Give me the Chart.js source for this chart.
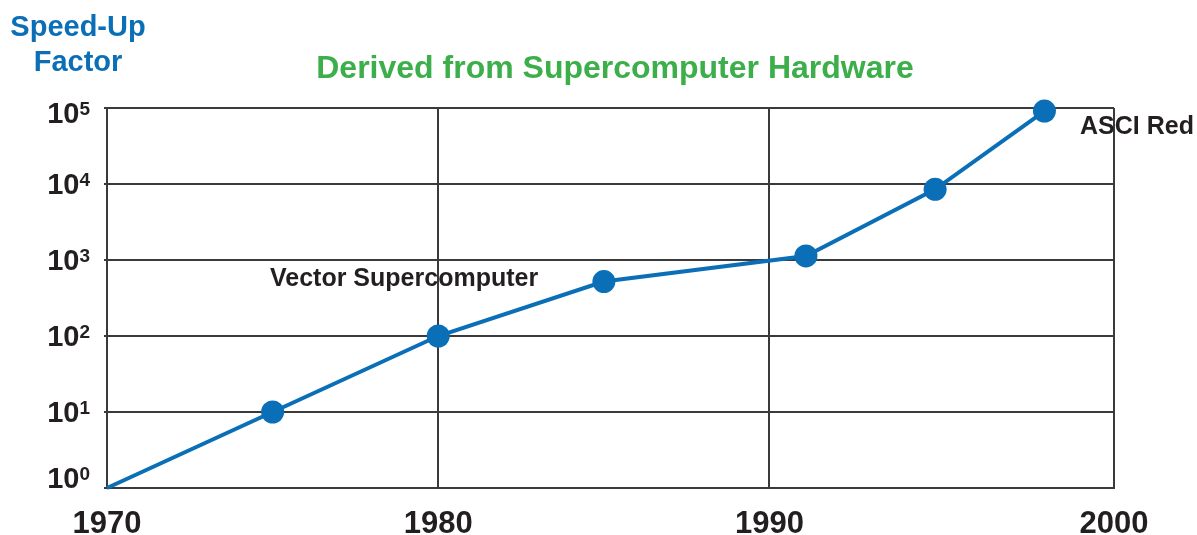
<!DOCTYPE html>
<html>
<head>
<meta charset="utf-8">
<script src="https://cdn.jsdelivr.net/npm/chart.js@4"></script>
<style>
  html, body { margin: 0; padding: 0; background: #ffffff; }
  #wrap { width: 1197px; height: 535px; position: relative; }
</style>
</head>
<body>
<div id="wrap"><canvas id="c" width="1197" height="535"></canvas></div>
<script>
// ---- data ----
const years = [1970, 1975, 1980, 1985, 1991.1, 1995, 1998.3];
const speedUp = [1, 10, 100, 520, 1130, 8500, 91000];
const xTickValues = [1970, 1980, 1990, 2000.4];
const xTickLabels = ['1970', '1980', '1990', '2000'];
const yTickValues = [1, 10, 100, 1000, 10000, 100000];
const yTickBase = '10';
const yTickExponents = ['0', '1', '2', '3', '4', '5'];
const chartTitle = 'Derived from Supercomputer Hardware';
const yTitleLines = ['Speed-Up', 'Factor'];
const annotations = [
  { text: 'Vector Supercomputer', x: 270, y: 279 },
  { text: 'ASCI Red', x: 1080, y: 127 }
];

const FONT = '"Liberation Sans", Arial, Helvetica, sans-serif';
const BLUE = '#0a6fb7';
const GRID = '#3a3a3a';
const DARK = '#231f20';

const textPlugin = {
  id: 'texts',
  afterDraw(chart) {
    const ctx = chart.ctx;
    ctx.save();
    ctx.textBaseline = 'middle';
    // title
    ctx.fillStyle = '#3cae4a';
    ctx.font = 'bold 32px ' + FONT;
    ctx.textAlign = 'center';
    ctx.fillText(chartTitle, 615, 69);
    // y-axis title
    ctx.fillStyle = BLUE;
    ctx.font = 'bold 29px ' + FONT;
    ctx.fillText(yTitleLines[0], 78, 28);
    ctx.fillText(yTitleLines[1], 78, 63);
    // annotations
    ctx.fillStyle = DARK;
    ctx.font = 'bold 25px ' + FONT;
    ctx.textAlign = 'left';
    annotations.forEach(a => ctx.fillText(a.text, a.x, a.y));
    // y tick labels with superscript exponents
    const ys = chart.scales.y;
    const rightEdge = 90;
    ctx.textBaseline = 'alphabetic';
    ys.ticks.forEach((t, i) => {
      const py = ys.getPixelForValue(t.value);
      const n = Math.min(Math.max(py, 113), 478);
      const baseY = n + 10;
      ctx.font = 'bold 19px ' + FONT;
      const ew = ctx.measureText(yTickExponents[i]).width;
      ctx.textAlign = 'left';
      ctx.fillText(yTickExponents[i], rightEdge - ew, baseY - 8);
      ctx.font = 'bold 29px ' + FONT;
      ctx.textAlign = 'right';
      ctx.fillText(yTickBase, rightEdge - ew, baseY);
    });
    ctx.restore();
  }
};

new Chart(document.getElementById('c'), {
  type: 'line',
  data: {
    datasets: [{
      data: years.map((y, i) => ({ x: y, y: speedUp[i] })),
      borderColor: BLUE,
      backgroundColor: BLUE,
      borderWidth: 4,
      tension: 0,
      pointRadius: years.map((y, i) => i === 0 ? 0 : 11.5),
      pointHoverRadius: years.map((y, i) => i === 0 ? 0 : 11.5),
      pointBackgroundColor: BLUE,
      pointBorderWidth: 0,
      clip: false
    }]
  },
  options: {
    responsive: false,
    animation: false,
    events: [],
    layout: { padding: { left: 0, right: 83, top: 108, bottom: 0 } },
    plugins: { legend: { display: false }, tooltip: { enabled: false }, title: { display: false } },
    scales: {
      x: {
        type: 'linear',
        min: 1970,
        max: 2000.4,
        afterBuildTicks(axis) { axis.ticks = xTickValues.map(v => ({ value: v })); },
        afterFit(axis) { axis.height = 47; },
        ticks: {
          autoSkip: false,
          maxRotation: 0,
          padding: 18,
          color: DARK,
          font: { family: FONT, size: 31, weight: 'bold' },
          callback: (v, i) => xTickLabels[i]
        },
        grid: { color: GRID, lineWidth: 2, drawTicks: false },
        border: { color: GRID, width: 2 }
      },
      y: {
        type: 'logarithmic',
        min: 1,
        max: 100000,
        afterBuildTicks(axis) { axis.ticks = yTickValues.map(v => ({ value: v })); },
        afterFit(axis) { axis.width = 107; },
        ticks: {
          autoSkip: false,
          padding: 14,
          color: DARK,
          font: { family: FONT, size: 27, weight: 'bold' },
          callback: () => ''
        },
        grid: { color: GRID, lineWidth: 2, drawTicks: true, tickLength: 3 },
        border: { color: GRID, width: 2 }
      }
    }
  },
  plugins: [textPlugin]
});
</script>
</body>
</html>
